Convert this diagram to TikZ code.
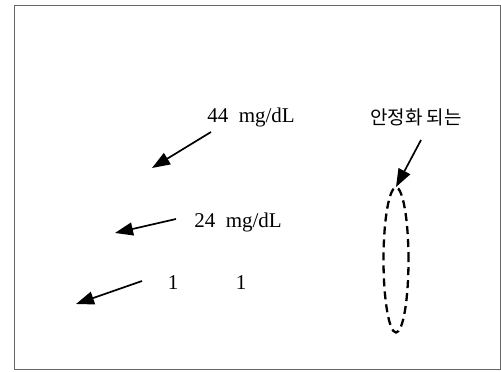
\documentclass[tikz,border=0pt]{standalone}
\usepackage{fontspec}
\setmainfont{Liberation Serif}
\newfontfamily\krfont{Noto Sans CJK KR}
\usetikzlibrary{arrows.meta,shapes.geometric}
\tikzset{
  lbl/.style={inner sep=0pt,font=\fontsize{21}{23}\selectfont},
  krlbl/.style={inner sep=0pt,font=\krfont\fontsize{19}{21}\selectfont},
  bigarrow/.style={line width=1.7pt,-{Triangle[length=18pt,width=13pt]}},
  frameline/.style={draw=black!60,line width=0.9pt},
  dashloop/.style={draw,ellipse,line width=2.3pt,dash pattern=on 8pt off 5pt,minimum width=25pt,minimum height=145pt,inner sep=0pt}
}
\begin{document}
\begin{tikzpicture}[x=1pt,y=-1pt]
\useasboundingbox (0,0) rectangle (501,372);
\draw[frameline] (14,5) rectangle (500,369);
\node[lbl] (t44) at (251,117) {44\ \ mg/dL};
\node[lbl] (t24) at (238,222) {24\ \ mg/dL};
\node[lbl] (one1) at (173,283) {1};
\node[lbl] (one2) at (241,283) {1};
\node[krlbl] (kr) at (416,117) {안정화 되는};
\node[dashloop] (loop) at (396,260) {};
\coordinate (a1s) at (211,132);
\coordinate (a1e) at (152,168);
\coordinate (a2s) at (176,219);
\coordinate (a2e) at (115,233);
\coordinate (a3s) at (142,281);
\coordinate (a3e) at (76,304);
\coordinate (a4s) at (421,140);
\coordinate (a4e) at (396,187);
\draw[bigarrow] (a1s) -- (a1e);
\draw[bigarrow] (a2s) -- (a2e);
\draw[bigarrow] (a3s) -- (a3e);
\draw[bigarrow] (a4s) -- (a4e);
\end{tikzpicture}
\end{document}
